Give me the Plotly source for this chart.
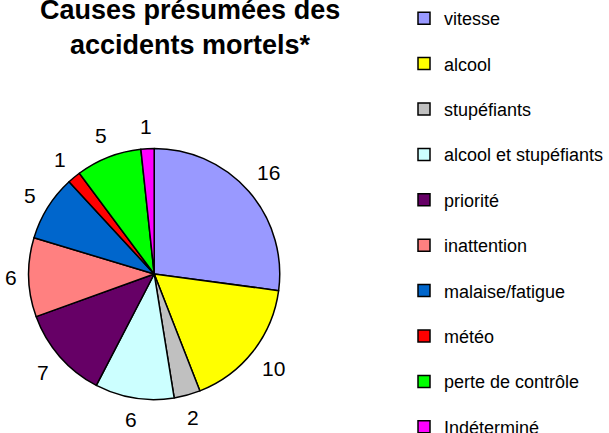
import math
import plotly.graph_objs as go

# data
causes = ['vitesse', 'alcool', 'stupéfiants', 'alcool et stupéfiants', 'priorité',
          'inattention', 'malaise/fatigue', 'météo', 'perte de contrôle', 'Indéterminé']
deaths = [16, 10, 2, 6, 7, 6, 5, 1, 5, 1]
colors = ['#9999FF', '#FFFF00', '#C0C0C0', '#CCFFFF', '#660066',
          '#FF8080', '#0066CC', '#FF0000', '#00FF00', '#FF00FF']

FONT = 'Liberation Sans, Arial, sans-serif'
W, H = 609, 433

# pie placement in pixels (centre and radius), turned into a paper domain
CX, CY, R = 156, 274, 127
dom_x = [(CX - R) / W, (CX + R) / W]
dom_y = [1 - (CY + R) / H, 1 - (CY - R) / H]

pie = go.Pie(
    labels=causes,
    values=deaths,
    sort=False,
    direction='clockwise',
    rotation=0,
    textinfo='none',
    marker=dict(colors=colors, line=dict(color='black', width=1.5)),
    domain=dict(x=dom_x, y=dom_y),
    showlegend=False,
)

# value labels outside each slice, at the slice's mid angle (Excel style, no leader lines)
LABEL_SIZE = 21
label_notes = []
total = sum(deaths)
cum = 0
for v in deaths:
    ang = 2 * math.pi * (cum + v / 2) / total
    cum += v
    s, c = math.sin(ang), -math.cos(ang)
    hw = 0.29 * LABEL_SIZE * len(str(v))
    hh = 0.38 * LABEL_SIZE
    dist = R + 12 + abs(s) * hw + abs(c) * hh
    label_notes.append(dict(
        text=str(v),
        xref='paper', yref='paper',
        x=(CX + dist * s) / W, y=1 - (CY + dist * c) / H,
        xanchor='center', yanchor='middle',
        showarrow=False,
        font=dict(size=LABEL_SIZE, family=FONT, color='black'),
    ))

# legend entries: one empty trace per cause so the gap between rows can be set
legend_items = []
for cause, col in zip(causes, colors):
    legend_items.append(go.Scatter(
        x=[None], y=[None],
        mode='markers',
        name=cause,
        legendgroup=cause,
        hoverinfo='skip',
        marker=dict(symbol='square', size=12, color=col,
                    line=dict(color='black', width=1.5)),
    ))

title_note = dict(
    text='<b>Causes présumées des<br>accidents mortels*</b>',
    xref='paper', yref='paper',
    x=192 / W, xanchor='center',
    y=1 - 27 / H, yanchor='middle',
    showarrow=False,
    font=dict(size=27, family=FONT, color='black'),
)

layout = go.Layout(
    width=W, height=H,
    paper_bgcolor='white',
    plot_bgcolor='white',
    margin=dict(l=0, r=0, t=0, b=0),
    font=dict(family=FONT, color='black'),
    xaxis=dict(visible=False),
    yaxis=dict(visible=False),
    showlegend=True,
    legend=dict(
        x=409 / W, xanchor='left',
        y=1 - 4 / H, yanchor='top',
        font=dict(size=18, family=FONT, color='black'),
        tracegroupgap=19,
        itemclick=False,
        bgcolor='rgba(0,0,0,0)',
    ),
    annotations=[title_note] + label_notes,
)

fig = go.Figure(data=[pie] + legend_items, layout=layout)
fig.write_html("out.html", config={'displayModeBar': False},
               post_script="document.body.style.margin='0';")
